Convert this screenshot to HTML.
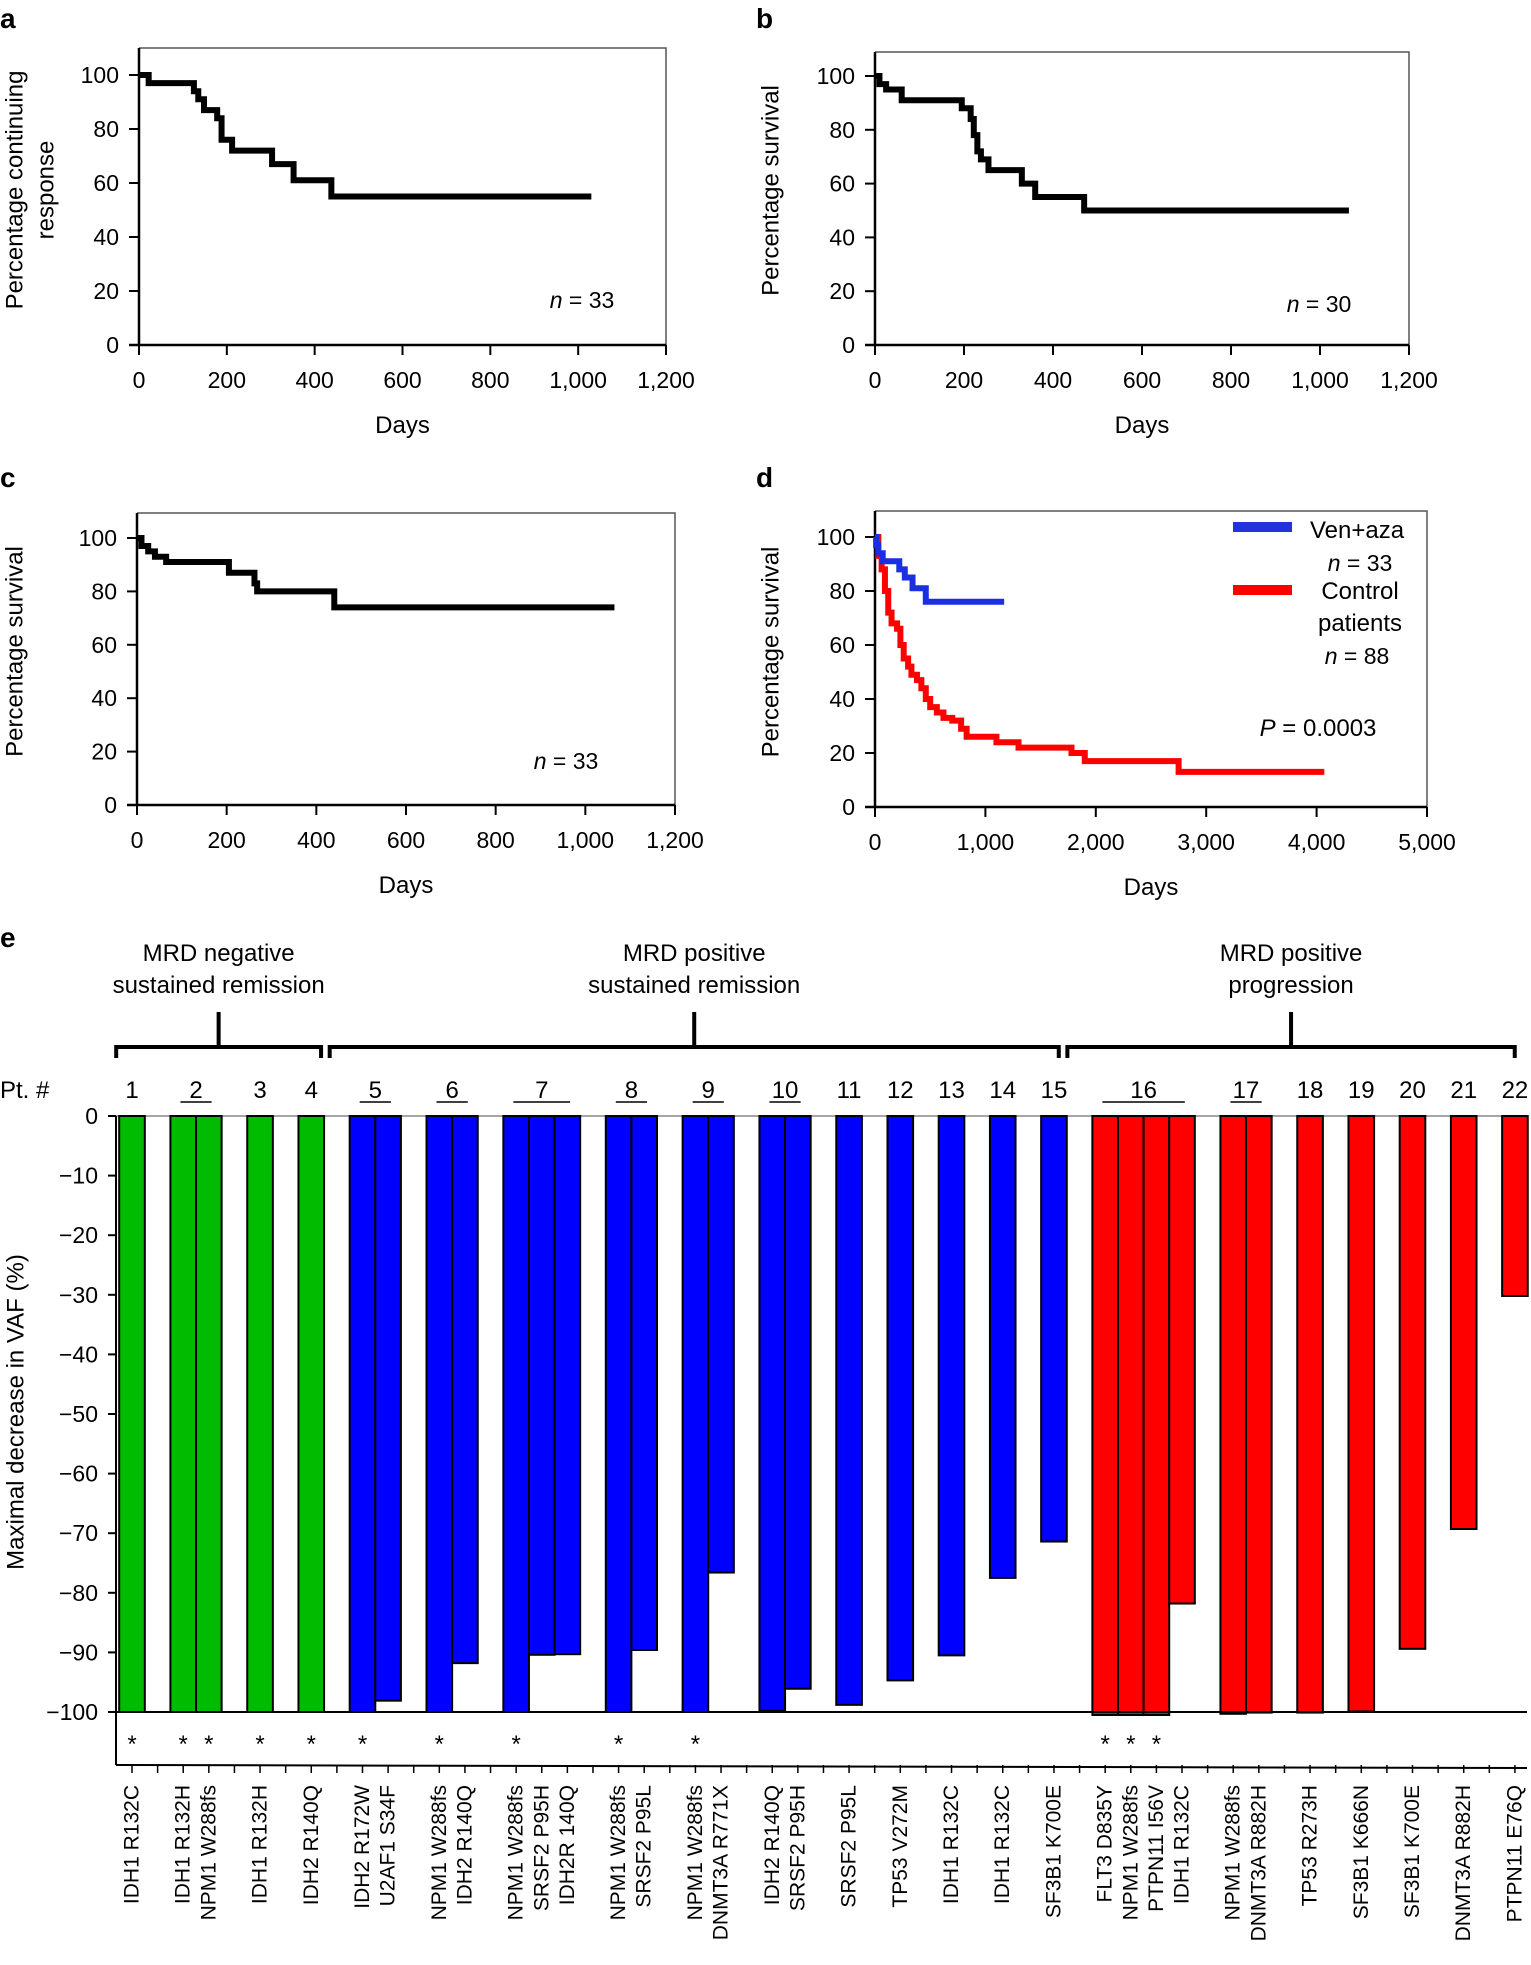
<!DOCTYPE html>
<html><head><meta charset="utf-8">
<style>
html,body{margin:0;padding:0;background:#fff;}
svg{display:block;font-family:"Liberation Sans",Arial,sans-serif;}
.n{font-family:"Liberation Sans Narrow","Liberation Sans",sans-serif;}
</style></head>
<body>
<svg id="fig" width="1531" height="1965" viewBox="0 0 1531 1965" xmlns="http://www.w3.org/2000/svg"></svg>
<script>
// ---- data: KM panels ----
const aTimes=[0,22,125,135,148,178,188,212,303,352,438];
const aSurv=[100,97,94,91,87,84,76,72,67,61,55];
const aEnd=1030;
const bTimes=[0,10,25,60,195,215,222,230,238,255,330,360,470];
const bSurv=[100,97,95,91,88,84,78,72,69,65,60,55,50];
const bEnd=1065;
const cTimes=[0,10,25,40,65,205,262,268,440];
const cSurv=[100,97,95,93,91,87,83,80,74];
const cEnd=1065;
const dBlueTimes=[0,10,30,70,220,270,340,460];
const dBlueSurv=[100,97,94,91,88,85,81,76];
const dBlueEnd=1170;
const dRedTimes=[0,30,60,90,120,150,200,230,260,300,330,380,420,460,500,560,620,700,780,830,1100,1300,1780,1900,2750];
const dRedSurv=[100,93,88,80,72,68,66,60,55,52,49,47,44,40,37,35,33,32,29,26,24,22,20,17,13];
const dRedEnd=4070;
const kmXTicks=[0,200,400,600,800,1000,1200];
const kmXTickLabels=['0','200','400','600','800','1,000','1,200'];
const dXTicks=[0,1000,2000,3000,4000,5000];
const dXTickLabels=['0','1,000','2,000','3,000','4,000','5,000'];
const kmYTicks=[0,20,40,60,80,100];
// ---- data: panel e ----
const patients=['1','2','3','4','5','6','7','8','9','10','11','12','13','14','15','16','17','18','19','20','21','22'];
const patientGroup=[0,0,0,0,1,1,1,1,1,1,1,1,1,1,1,2,2,2,2,2,2,2];
const patientMutations=[['IDH1 R132C'],['IDH1 R132H','NPM1 W288fs'],['IDH1 R132H'],['IDH2 R140Q'],['IDH2 R172W','U2AF1 S34F'],['NPM1 W288fs','IDH2 R140Q'],['NPM1 W288fs','SRSF2 P95H','IDH2R 140Q'],['NPM1 W288fs','SRSF2 P95L'],['NPM1 W288fs','DNMT3A R771X'],['IDH2 R140Q','SRSF2 P95H'],['SRSF2 P95L'],['TP53 V272M'],['IDH1 R132C'],['IDH1 R132C'],['SF3B1 K700E'],['FLT3 D835Y','NPM1 W288fs','PTPN11 I56V','IDH1 R132C'],['NPM1 W288fs','DNMT3A R882H'],['TP53 R273H'],['SF3B1 K666N'],['SF3B1 K700E'],['DNMT3A R882H'],['PTPN11 E76Q']];
const patientValues=[[-100],[-100,-100],[-100],[-100],[-100,-98.1],[-100,-91.8],[-100,-90.4,-90.3],[-100,-89.6],[-100,-76.6],[-99.8,-96.1],[-98.8],[-94.7],[-90.5],[-77.5],[-71.4],[-100.5,-100.5,-100.5,-81.8],[-100.3,-100.1],[-100.1],[-99.9],[-89.4],[-69.3],[-30.2]];
const patientStars=[[1],[1,1],[1],[1],[1,0],[1,0],[1,0,0],[1,0],[1,0],[0,0],[0],[0],[0],[0],[0],[1,1,1,0],[0,0],[0],[0],[0],[0],[0]];
const groupTitles=[['MRD negative','sustained remission'],['MRD positive','sustained remission'],['MRD positive','progression']];
const eYTicks=[0,-10,-20,-30,-40,-50,-60,-70,-80,-90,-100];
const groupColors=['#00bb00','#0000ff','#ff0000'];

const NS='http://www.w3.org/2000/svg';
const svg=document.getElementById('fig');
function mk(tag,attrs,parent){const e=document.createElementNS(NS,tag);for(const k in attrs)e.setAttribute(k,attrs[k]);(parent||svg).appendChild(e);return e;}
function tx(str,attrs,parent){const e=mk('text',attrs,parent);e.textContent=str;return e;}

function stepPath(times,vals,end,sx,sy){
  let d='M'+sx(times[0])+','+sy(vals[0]);
  for(let i=1;i<times.length;i++){d+=' H'+sx(times[i])+' V'+sy(vals[i]);}
  d+=' H'+sx(end);return d;
}

function kmPanel(p){
  const g=mk('g',{});
  
  
  const sx=v=>p.x0+(v/p.xmax)*(p.x1-p.x0);
  const sy=v=>p.y0+(v/100)*(p.y100-p.y0);
  const fr=mk('path',{d:'M'+p.x0+','+p.top+' H'+p.x1+' V'+p.y0,fill:'none',stroke:'#555','stroke-width':1.5},g);
  
  
  const ya=mk('line',{x1:p.x0,y1:p.top,x2:p.x0,y2:p.y0,stroke:'#000','stroke-width':2.5},g);
  
  
  const xa=mk('line',{x1:p.x0-10,y1:p.y0,x2:p.x1,y2:p.y0,stroke:'#000','stroke-width':2.5},g);
  
  
  kmYTicks.forEach(v=>{
    mk('line',{x1:p.x0-10,x2:p.x0,y1:sy(v),y2:sy(v),stroke:'#000','stroke-width':2},g);
    const t=tx(String(v),{x:p.x0-20,y:sy(v)+8,'text-anchor':'end','font-size':23,class:'n'},g);
    
    
  });
  p.xt.forEach((v,i)=>{
    mk('line',{x1:sx(v),x2:sx(v),y1:p.y0,y2:p.y0+10,stroke:'#000','stroke-width':2},g);
    const t=tx(p.xl[i],{x:sx(v),y:p.y0+43,'text-anchor':'middle','font-size':23,class:'n'},g);
    
    
  });
  p.series.forEach(s=>{
    const l=mk('path',{d:stepPath(s.t,s.v,s.end,sx,sy),fill:'none',stroke:s.c,'stroke-width':6,'stroke-linejoin':'miter'},g);
    
    
  });
  const xt=tx('Days',{x:(p.x0+p.x1)/2,y:p.y0+88,'text-anchor':'middle','font-size':24,class:'n'},g);
  
  
  p.ytitle.forEach((line,i)=>{
    const yx=p.ytx+i*31, yc=(p.y0+p.y100)/2-20;
    const t=tx(line,{x:yx,y:yc,'text-anchor':'middle','font-size':24,transform:'rotate(-90 '+yx+' '+yc+')','dominant-baseline':'central'},g);
    
    
  });
  const pl=tx(p.letter,{x:p.lx,y:p.ly,'font-size':28,'font-weight':'bold'},g);
  
  
  return {g,sx,sy};
}

function nLabel(g,x,y,num){
  const t=mk('text',{x:x,y:y,'text-anchor':'middle','font-size':23,class:'n'},g);
  const i=mk('tspan',{'font-style':'italic'},t);i.textContent='n';
  const r=mk('tspan',{},t);r.textContent=' = '+num;
  
  
}

const A=kmPanel({name:'panel-a',letter:'a',lx:0,ly:28,x0:139,x1:666,xmax:1200,y0:345,y100:75,top:48,xt:kmXTicks,xl:kmXTickLabels,ytx:15,ytitle:['Percentage continuing','response'],series:[{t:aTimes,v:aSurv,end:aEnd,c:'#000',name:'response-curve'}]});
nLabel(A.g,582,308,'33');
const B=kmPanel({name:'panel-b',letter:'b',lx:756,ly:28,x0:875,x1:1409,xmax:1200,y0:345,y100:76,top:52,xt:kmXTicks,xl:kmXTickLabels,ytx:771,ytitle:['Percentage survival'],series:[{t:bTimes,v:bSurv,end:bEnd,c:'#000',name:'survival-curve'}]});
nLabel(B.g,1319,312,'30');
const C=kmPanel({name:'panel-c',letter:'c',lx:0,ly:487,x0:137,x1:675,xmax:1200,y0:805,y100:538,top:513,xt:kmXTicks,xl:kmXTickLabels,ytx:15,ytitle:['Percentage survival'],series:[{t:cTimes,v:cSurv,end:cEnd,c:'#000',name:'survival-curve'}]});
nLabel(C.g,566,769,'33');
const D=kmPanel({name:'panel-d',letter:'d',lx:756,ly:487,x0:875,x1:1427,xmax:5000,y0:807,y100:537,top:511,xt:dXTicks,xl:dXTickLabels,ytx:771,ytitle:['Percentage survival'],series:[{t:dRedTimes,v:dRedSurv,end:dRedEnd,c:'#ff0000',name:'control-curve'},{t:dBlueTimes,v:dBlueSurv,end:dBlueEnd,c:'#1a2fe0',name:'ven-aza-curve'}]});
// legend d
const lb=mk('line',{x1:1233,x2:1292,y1:527,y2:527,stroke:'#2233dd','stroke-width':10},D.g);


const lbt=tx('Ven+aza',{x:1357,y:538,'text-anchor':'middle','font-size':24,class:'n'},D.g);


nLabel(D.g,1360,571,'33');
const lr=mk('line',{x1:1233,x2:1292,y1:590,y2:590,stroke:'#ff0000','stroke-width':10},D.g);


const lrt=tx('Control',{x:1360,y:599,'text-anchor':'middle','font-size':24,class:'n'},D.g);


const lrt2=tx('patients',{x:1360,y:631,'text-anchor':'middle','font-size':24,class:'n'},D.g);


nLabel(D.g,1357,664,'88');
const pv=mk('text',{x:1318,y:736,'text-anchor':'middle','font-size':24,class:'n'},D.g);


const pi=mk('tspan',{'font-style':'italic'},pv);pi.textContent='P';
const pr=mk('tspan',{},pv);pr.textContent=' = 0.0003';

// ---- panel e ----
const E=mk('g',{});


const eAx=116, eY0=1116, eY100=1712, eBottom=1765, eRight=1527;
const slot0=132, slotW=25.61;
const ey=v=>eY0+(v/-100)*(eY100-eY0);
const sxs=i=>slot0+i*slotW;
const el=tx('e',{x:0,y:947,'font-size':28,'font-weight':'bold'},E);


const zl=mk('line',{x1:eAx,x2:eRight,y1:eY0,y2:eY0,stroke:'#888','stroke-width':1.5},E);


const eya=mk('line',{x1:eAx,x2:eAx,y1:eY0,y2:eBottom,stroke:'#000','stroke-width':2},E);


eYTicks.forEach(v=>{
  mk('line',{x1:eAx-8,x2:eAx,y1:ey(v),y2:ey(v),stroke:'#000','stroke-width':2},E);
  const t=tx(v===0?'0':'\u2212'+Math.abs(v),{x:eAx-18,y:ey(v)+8,'text-anchor':'end','font-size':23,class:'n'},E);
  
  
});
const yt=tx('Maximal decrease in VAF (%)',{x:16,y:1412,'text-anchor':'middle','font-size':24,transform:'rotate(-90 16 1412)','dominant-baseline':'central'},E);


const ptl=tx('Pt. #',{x:0,y:1098,'font-size':24,class:'n'},E);



let slot=0;
const groupExt=[[1e9,-1e9],[1e9,-1e9],[1e9,-1e9]];
patients.forEach((pn,pi)=>{
  const vals=patientValues[pi], muts=patientMutations[pi], stars=patientStars[pi];
  const first=slot;
  vals.forEach((v,j)=>{
    const cx=sxs(slot);
    const r=mk('rect',{x:cx-slotW/2,y:eY0,width:slotW,height:ey(v)-eY0,fill:groupColors[patientGroup[pi]],stroke:'#000','stroke-width':2},E);
    
    
    if(stars[j]){
      const s=tx('*',{x:cx,y:1752,'text-anchor':'middle','font-size':24},E);
      
      
    }
    const lt=tx(muts[j],{x:cx,y:1785,'text-anchor':'end','font-size':21,'dominant-baseline':'central',transform:'rotate(-90 '+cx+' 1785)'},E);
    
    
    slot++;
  });
  const last=slot-1;
  const c=(sxs(first)+sxs(last))/2;
  const nt=tx(pn,{x:c,y:1098,'text-anchor':'middle','font-size':24,class:'n'},E);
  
  
  if(vals.length>1){
    const hw=vals.length*slotW/2-10;
    const u=mk('line',{x1:c-hw,x2:c+hw,y1:1102,y2:1102,stroke:'#000','stroke-width':1.5},E);
    
    
  }
  const gi=patientGroup[pi];
  groupExt[gi][0]=Math.min(groupExt[gi][0],sxs(first)-slotW/2);
  groupExt[gi][1]=Math.max(groupExt[gi][1],sxs(last)+slotW/2);
  slot++;
});
for(let i=0;i<slot-1;i++){
  mk('line',{x1:sxs(i),x2:sxs(i),y1:eBottom,y2:eBottom+8,stroke:'#000','stroke-width':1.5},E);
}
const hl=mk('line',{x1:eAx,x2:eRight,y1:eY100,y2:eY100,stroke:'#000','stroke-width':2},E);


const xb=mk('line',{x1:eAx,x2:eRight,y1:eBottom,y2:eBottom+3,stroke:'#000','stroke-width':2},E);


const bAdj=[[-3,-3],[-20,-8],[-25,-13]];
groupTitles.forEach((tt,gi)=>{
  const L=groupExt[gi][0]+bAdj[gi][0], R=groupExt[gi][1]+bAdj[gi][1], M=(L+R)/2;
  const b=mk('path',{d:'M'+L+',1058 V1047 H'+R+' V1058 M'+M+',1047 V1012',fill:'none',stroke:'#000','stroke-width':4},E);
  
  
  tt.forEach((line,k)=>{
    const t=tx(line,{x:M,y:961+k*32,'text-anchor':'middle','font-size':24,class:'n'},E);
    
    
  });
});
</script>
</body></html>
